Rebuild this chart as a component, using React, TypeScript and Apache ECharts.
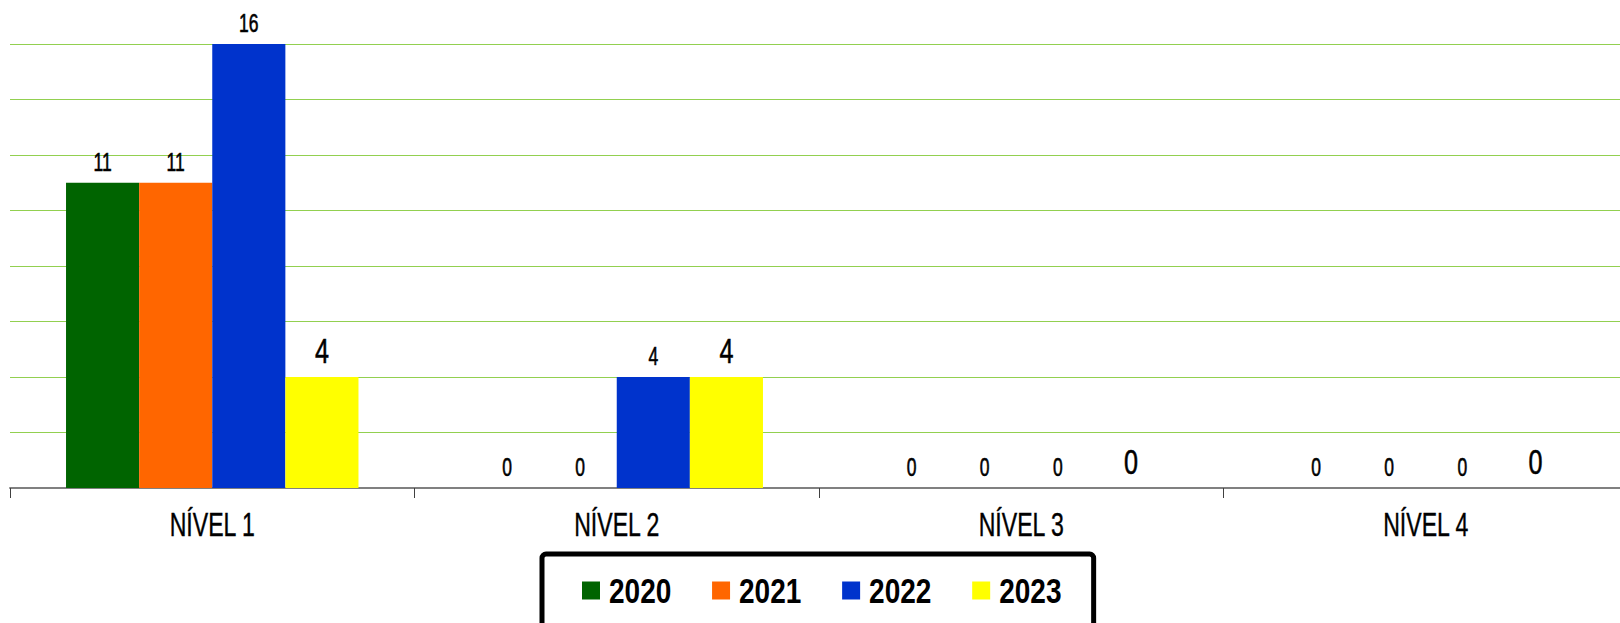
import React, { useEffect, useRef } from "react";
import * as echarts from "echarts";

const categories = ["NÍVEL 1", "NÍVEL 2", "NÍVEL 3", "NÍVEL 4"];
const seriesNames = ["2020", "2021", "2022", "2023"];
const values2020 = [11, 0, 0, 0];
const values2021 = [11, 0, 0, 0];
const values2022 = [16, 4, 0, 0];
const values2023 = [4, 4, 0, 0];
const seriesColors = ["#006400", "#FF6600", "#0033CC", "#FFFF00"];
const labelSizes = [25, 25, 25, 36];

const FONT = "'Liberation Sans', Arial, sans-serif";

// Narrow the glyphs horizontally to imitate the condensed typeface of the original
function condenseTexts(root: HTMLElement) {
  const texts = root.querySelectorAll("text");
  texts.forEach((el) => {
    if (el.getAttribute("data-condensed")) return;
    const st = el.getAttribute("style") || "";
    const sx = st.includes("bold") ? 0.8 : 0.7;
    const t = el.getAttribute("transform") || "";
    const x = parseFloat(el.getAttribute("x") || "0") || 0;
    const extra =
      x !== 0
        ? ` translate(${x} 0) scale(${sx} 1) translate(${-x} 0)`
        : ` scale(${sx} 1)`;
    el.setAttribute("transform", (t + extra).trim());
    el.setAttribute("data-condensed", "1");
  });
}

export default function App() {
  const ref = useRef<HTMLDivElement>(null);

  useEffect(() => {
    if (!ref.current) return;
    const el = ref.current;
    const chart = echarts.init(el, undefined, { renderer: "svg" });
    const allValues = [values2020, values2021, values2022, values2023];
    chart.on("finished", () => condenseTexts(el));
    chart.setOption({
      animation: false,
      backgroundColor: "#ffffff",
      grid: {
        left: 10,
        width: 1618,
        top: 44,
        bottom: 135,
        containLabel: false,
        outerBoundsMode: "none",
      },
      legend: {
        data: seriesNames,
        left: 542,
        top: 554,
        orient: "horizontal",
        icon: "rect",
        itemWidth: 18,
        itemHeight: 18,
        itemGap: 25.2,
        borderColor: "#000000",
        borderWidth: 5,
        borderRadius: 4,
        padding: [19, 16.6, 40, 40],
        textStyle: {
          fontFamily: FONT,
          fontWeight: "bold",
          fontSize: 35,
          color: "#000000",
          padding: [0, 0, 0, 4],
        },
      },
      xAxis: {
        type: "category",
        data: categories,
        axisLine: { show: true, lineStyle: { color: "#808080", width: 2 } },
        axisTick: { show: true, length: 10, lineStyle: { color: "#404040", width: 1 } },
        axisLabel: {
          fontFamily: FONT,
          fontSize: 33,
          color: "#000000",
          margin: 20,
          textBorderColor: "#000000",
          textBorderWidth: 0.4,
        },
      },
      yAxis: {
        type: "value",
        min: 0,
        max: 16,
        interval: 2,
        axisLabel: { show: false },
        axisLine: { show: false },
        axisTick: { show: false },
        splitLine: { show: true, lineStyle: { color: "#92D050", width: 1 } },
      },
      series: seriesNames.map((name, i) => ({
        name,
        type: "bar",
        data: allValues[i],
        barGap: "0%",
        barCategoryGap: "27.7%",
        itemStyle: { color: seriesColors[i] },
        label: {
          show: true,
          position: "top",
          distance: 8,
          fontFamily: FONT,
          fontSize: labelSizes[i],
          color: "#000000",
          textBorderColor: "#000000",
          textBorderWidth: 0.6,
        },
      })),
    });
    condenseTexts(el);
    const timer = setTimeout(() => condenseTexts(el), 0);
    return () => {
      clearTimeout(timer);
      chart.dispose();
    };
  }, []);

  return (
    <div
      ref={ref}
      style={{ position: "fixed", left: 0, top: 0, width: 1620, height: 623, background: "#fff" }}
    />
  );
}
